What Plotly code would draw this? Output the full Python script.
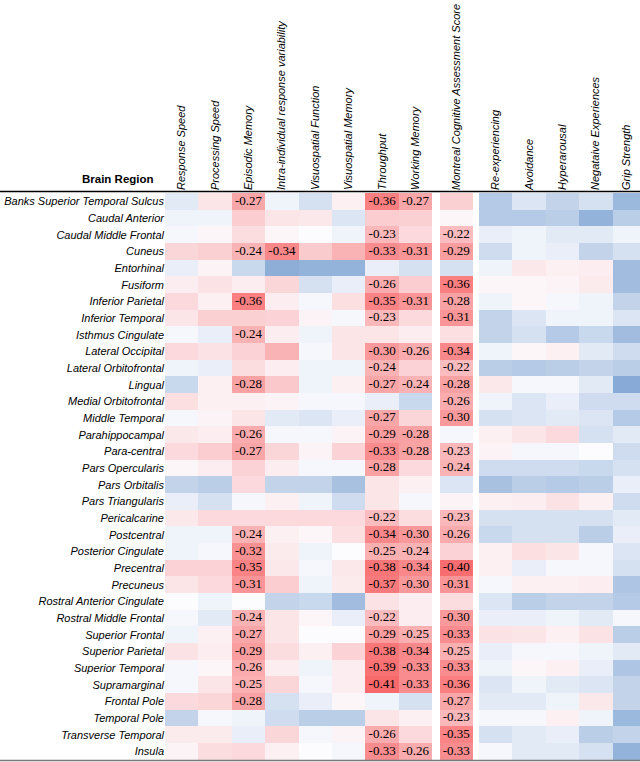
import math
import plotly.graph_objects as go

regions = [
    "Banks Superior Temporal Sulcus", "Caudal Anterior", "Caudal Middle Frontal", "Cuneus",
    "Entorhinal", "Fusiform", "Inferior Parietal", "Inferior Temporal", "Isthmus Cingulate",
    "Lateral Occipital", "Lateral Orbitofrontal", "Lingual", "Medial Orbitofrontal",
    "Middle Temporal", "Parahippocampal", "Para-central", "Pars Opercularis", "Pars Orbitalis",
    "Pars Triangularis", "Pericalcarine", "Postcentral", "Posterior Cingulate", "Precentral",
    "Precuneus", "Rostral Anterior Cingulate", "Rostral Middle Frontal", "Superior Frontal",
    "Superior Parietal", "Superior Temporal", "Supramarginal", "Frontal Pole", "Temporal Pole",
    "Transverse Temporal", "Insula",
]

cognitive_cols = ["Response Speed", "Processing Speed", "Episodic Memory",
                  "Intra-individual response variability", "Visuospatial Function",
                  "Visuospatial Memory", "Throughput", "Working Memory"]
moca_col = ["Montreal Cognitive Assessment Score"]
other_cols = ["Re-experiencing", "Avoidance", "Hyperarousal", "Negataive Experiences", "Grip Strength"]

cognitive_r = [
    [0.04, -0.08, -0.27, 0.02, 0.06, -0.04, -0.36, -0.27],
    [0.02, 0.02, -0.16, -0.08, -0.07, 0.05, -0.16, -0.15],
    [0.01, -0.02, -0.11, -0.02, 0.00, 0.02, -0.23, -0.12],
    [-0.13, -0.15, -0.24, -0.34, -0.17, -0.24, -0.33, -0.31],
    [0.03, -0.03, 0.08, 0.17, 0.16, 0.16, 0.03, 0.06],
    [-0.05, -0.09, -0.05, -0.13, 0.06, 0.03, -0.26, -0.16],
    [-0.12, -0.04, -0.36, -0.05, 0.01, -0.10, -0.35, -0.31],
    [-0.08, -0.15, -0.15, -0.14, -0.03, 0.01, -0.23, -0.12],
    [0.01, 0.03, -0.24, -0.05, 0.02, -0.08, -0.08, -0.05],
    [-0.12, -0.09, -0.14, -0.24, 0.01, -0.08, -0.30, -0.26],
    [0.02, 0.03, -0.11, -0.05, 0.02, 0.02, -0.24, -0.14],
    [0.08, -0.04, -0.28, -0.18, 0.02, -0.04, -0.27, -0.24],
    [-0.10, -0.04, -0.04, -0.03, 0.01, 0.01, 0.03, 0.08],
    [0.01, -0.03, -0.08, 0.04, 0.05, 0.03, -0.27, -0.13],
    [-0.07, -0.05, -0.26, 0.01, 0.01, -0.03, -0.29, -0.28],
    [-0.12, -0.16, -0.27, -0.13, -0.03, -0.14, -0.33, -0.28],
    [-0.02, -0.05, -0.14, -0.05, 0.01, 0.01, -0.28, -0.12],
    [0.09, 0.10, -0.12, 0.09, 0.09, 0.13, -0.08, -0.04],
    [0.03, 0.06, 0.01, -0.04, 0.02, 0.07, -0.08, 0.01],
    [-0.07, -0.12, -0.12, -0.12, -0.12, -0.12, -0.22, -0.11],
    [0.02, 0.02, -0.24, -0.04, -0.02, -0.10, -0.34, -0.30],
    [0.02, 0.01, -0.32, -0.06, 0.02, 0.00, -0.25, -0.24],
    [-0.14, -0.14, -0.35, -0.07, 0.01, -0.07, -0.38, -0.34],
    [-0.08, -0.12, -0.31, -0.16, 0.02, -0.06, -0.37, -0.30],
    [0.00, 0.02, 0.00, 0.09, 0.08, 0.14, -0.09, -0.05],
    [0.01, 0.04, -0.24, -0.08, -0.02, 0.03, -0.22, -0.05],
    [0.02, -0.04, -0.27, -0.08, 0.00, 0.00, -0.29, -0.25],
    [-0.09, -0.05, -0.29, -0.11, -0.04, -0.14, -0.38, -0.34],
    [0.01, -0.02, -0.26, -0.05, 0.02, -0.05, -0.39, -0.33],
    [0.01, -0.08, -0.25, -0.13, 0.01, -0.05, -0.41, -0.33],
    [-0.12, -0.13, -0.28, 0.06, 0.03, -0.02, 0.02, 0.06],
    [0.09, 0.01, 0.02, 0.07, 0.10, 0.10, -0.08, -0.04],
    [-0.06, -0.06, 0.03, -0.13, 0.01, -0.03, -0.26, -0.12],
    [-0.03, -0.11, -0.12, -0.04, 0.00, 0.01, -0.33, -0.26],
]

moca_r = [-0.15, -0.02, -0.22, -0.29, 0.06, -0.36, -0.28, -0.31, -0.10, -0.34, -0.22, -0.28,
          -0.26, -0.30, 0.01, -0.23, -0.24, 0.05, -0.03, -0.23, -0.26, -0.14, -0.40, -0.31,
          -0.11, -0.30, -0.33, -0.25, -0.33, -0.36, -0.27, -0.23, -0.35, -0.33]

other_r = [
    [0.11, 0.05, 0.09, 0.06, 0.15],
    [0.11, 0.11, 0.10, 0.16, 0.10],
    [0.03, 0.02, 0.04, 0.04, 0.02],
    [0.07, 0.02, 0.03, 0.09, 0.06],
    [0.02, -0.07, -0.04, -0.05, 0.14],
    [-0.02, -0.02, -0.03, -0.06, 0.14],
    [0.02, -0.02, 0.01, 0.02, 0.09],
    [0.09, 0.05, 0.02, 0.02, 0.05],
    [0.09, 0.06, 0.11, 0.08, 0.14],
    [0.02, -0.02, -0.04, 0.04, 0.07],
    [0.10, 0.11, 0.10, 0.09, 0.10],
    [-0.07, 0.01, 0.01, 0.04, 0.18],
    [0.02, 0.05, 0.03, 0.07, 0.07],
    [0.06, 0.05, 0.04, 0.05, 0.11],
    [-0.04, -0.08, -0.12, 0.06, 0.04],
    [-0.03, 0.01, 0.01, 0.00, 0.07],
    [0.07, 0.07, 0.07, 0.08, 0.06],
    [0.13, 0.10, 0.11, 0.10, 0.03],
    [-0.04, -0.05, -0.09, -0.04, 0.07],
    [0.06, 0.06, 0.06, 0.06, 0.04],
    [0.08, 0.06, 0.06, 0.10, 0.03],
    [-0.04, -0.10, -0.08, 0.01, 0.05],
    [-0.04, 0.03, 0.01, 0.01, 0.06],
    [0.01, -0.04, -0.04, -0.05, 0.12],
    [0.05, 0.10, 0.09, 0.09, 0.11],
    [0.03, 0.03, 0.02, 0.04, 0.01],
    [-0.09, -0.08, -0.04, -0.09, 0.10],
    [0.03, 0.01, 0.01, 0.02, 0.04],
    [0.02, -0.02, -0.04, 0.03, 0.12],
    [0.05, 0.02, 0.04, 0.05, 0.09],
    [0.04, 0.04, 0.02, -0.07, 0.09],
    [0.01, 0.01, -0.04, 0.02, 0.15],
    [0.06, 0.04, 0.03, 0.10, 0.09],
    [0.01, 0.04, 0.04, 0.06, 0.16],
]

# significant (labelled) cells: indices into cognitive columns, 8 = MoCA
labelled = [
    [2, 6, 7], [], [6, 8], [2, 3, 6, 7, 8], [], [6, 8], [2, 6, 7, 8], [6, 8], [2],
    [6, 7, 8], [6, 8], [2, 6, 7, 8], [8], [6, 8], [2, 6, 7], [2, 6, 7, 8], [6, 8], [], [],
    [6, 8], [2, 6, 7, 8], [2, 6, 7], [2, 6, 7, 8], [2, 6, 7, 8], [], [2, 6, 8], [2, 6, 7, 8],
    [2, 6, 7, 8], [2, 6, 7, 8], [2, 6, 7, 8], [2, 8], [8], [6, 8], [6, 7, 8],
]

# ---- layout geometry (pixels) ----
W, H = 640, 762
LEFT, TOP = 165, 191
CW = 33.4
GAP1_END = 439.5
GAP2_END = 479.0
ROW0, ROW_END = 193.0, 759.8
nrows = len(regions)
RH = (ROW_END - ROW0) / nrows

x_edges = [LEFT + i * CW for i in range(9)]           # 8 cognitive columns
x_edges += [GAP1_END, GAP1_END + CW]                  # gap, MoCA
x_edges += [GAP2_END + i * CW for i in range(6)]      # gap, 5 other columns
x_edges[-1] = 646
y_edges = [ROW0 + i * RH for i in range(nrows + 1)]

data_col_idx = list(range(8)) + [9] + list(range(11, 16))
col_names = cognitive_cols + moca_col + other_cols
col_centers = [(x_edges[i] + min(x_edges[i + 1], 640)) / 2 for i in data_col_idx]
row_centers = [(y_edges[i] + y_edges[i + 1]) / 2 for i in range(nrows)]

nan = math.nan
z = []
lab_x, lab_y, lab_t = [], [], []
for r in range(nrows):
    z.append(cognitive_r[r] + [nan] + [moca_r[r]] + [nan] + other_r[r])
    for c in labelled[r]:
        v = cognitive_r[r][c] if c < 8 else moca_r[r]
        lab_x.append(col_centers[c])
        lab_y.append(row_centers[r])
        lab_t.append(f"{v:.2f}")

zmin, zmax = -0.41, 0.25
def pos(v):
    return (v - zmin) / (zmax - zmin)

colorscale = [
    [0.0, "rgb(248,105,107)"],
    [pos(-0.22), "rgb(250,188,190)"],
    [pos(0.0), "rgb(252,252,255)"],
    [1.0, "rgb(90,138,198)"],
]

fig = go.Figure()
fig.add_trace(go.Heatmap(
    x=x_edges, y=y_edges, z=z, zmin=zmin, zmax=zmax,
    colorscale=colorscale, showscale=False, hoverinfo="skip",
))
fig.add_trace(go.Scatter(
    x=lab_x, y=lab_y, text=lab_t, mode="text", textposition="middle center",
    textfont=dict(family="Liberation Serif, Times New Roman, serif", size=13, color="black"),
    hoverinfo="skip", cliponaxis=False,
))

plot_w = W - LEFT
plot_h = H - TOP

fig.update_layout(
    width=W, height=H, autosize=False,
    margin=dict(l=LEFT, r=0, t=TOP, b=0, pad=0),
    paper_bgcolor="white", plot_bgcolor="white",
    xaxis=dict(range=[LEFT, W], side="top", tickmode="array", tickvals=col_centers,
               ticktext=col_names, tickangle=-90, showgrid=False, zeroline=False,
               showline=False, ticks="", automargin=False, fixedrange=True,
               tickfont=dict(family="Liberation Sans, Arial, sans-serif", size=11,
                             color="black", style="italic")),
    yaxis=dict(range=[H, TOP], tickmode="array", tickvals=row_centers, ticktext=regions,
               showgrid=False, zeroline=False, showline=False, ticks="", automargin=False,
               fixedrange=True,
               tickfont=dict(family="Liberation Sans, Arial, sans-serif", size=11,
                             color="black", style="italic")),
    showlegend=False,
)

fig.add_annotation(
    text="<b>Brain Region</b>", xref="paper", yref="paper",
    x=(156 - LEFT) / plot_w, y=(H - 187) / plot_h, xanchor="right", yanchor="bottom",
    showarrow=False, font=dict(family="Liberation Sans, Arial, sans-serif", size=11.5, color="black"),
)

fig.add_shape(type="line", xref="paper", yref="paper",
              x0=-LEFT / plot_w, x1=1, y0=(H - 191.5) / plot_h, y1=(H - 191.5) / plot_h,
              line=dict(color="black", width=1.5))
fig.add_shape(type="line", xref="paper", yref="paper",
              x0=-LEFT / plot_w, x1=1, y0=(H - 760.5) / plot_h, y1=(H - 760.5) / plot_h,
              line=dict(color="#777777", width=1.5))

fig.write_html("out.html", config={"displayModeBar": False},
               post_script="document.body.style.margin='0';document.body.style.overflow='hidden';")
